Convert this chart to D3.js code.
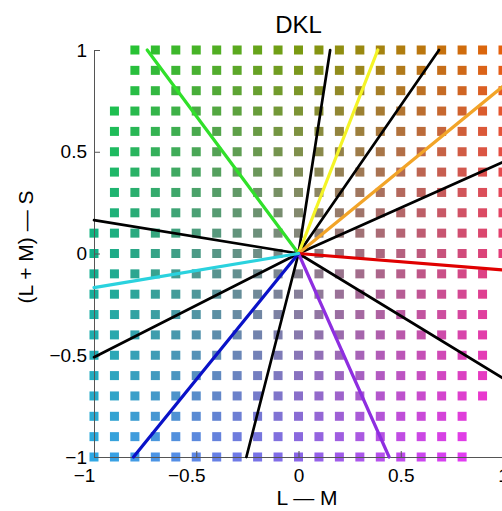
<!DOCTYPE html>
<html>
<head>
<meta charset="utf-8">
<script src="https://cdn.jsdelivr.net/npm/d3@7"></script>
<style>
  body { margin: 0; background: #fff; }
  svg { display: block; }
  text { font-family: "Liberation Sans", Arial, Helvetica, sans-serif; fill: #000; }
</style>
</head>
<body>
<script>
// grid of DKL samples: rows of (L+M)-S, columns of L-M
var sLevels = [1, 0.9, 0.8, 0.7, 0.6, 0.5, 0.4, 0.3, 0.2, 0.1, 0, -0.1, -0.2, -0.3, -0.4, -0.5, -0.6, -0.7, -0.8, -0.9, -1];
var lmLevels = [-1, -0.9, -0.8, -0.7, -0.6, -0.5, -0.4, -0.3, -0.2, -0.1, 0, 0.1, 0.2, 0.3, 0.4, 0.5, 0.6, 0.7, 0.8, 0.9, 1];
// gamut limits for each row (same order as sLevels)
var rowMin = [-0.8, -0.8, -0.8, -0.9, -0.9, -0.9, -0.9, -0.9, -0.9, -1, -1, -1, -1, -1, -1, -1, -1, -1, -1, -1, -1];
var rowMax = [1, 1, 1, 1, 1, 1, 1, 1, 1, 1, 1, 0.9, 0.9, 0.9, 0.9, 0.9, 0.9, 0.9, 0.8, 0.8, 0.8];

// colour read at the corners / edges / centre (rows s = 1, 0, -1; cols lm = -1, 0, 1)
var anchorColors = [
  ["#14cc3c", "#7a9a12", "#e6600c"],
  ["#12b088", "#858585", "#e43c78"],
  ["#30a8e4", "#8a66e8", "#f830f4"]
];

// direction lines (angle in degrees in the L-M / (L+M)-S plane)
var rayAngles = [81.2, 55.5, 24.2, -31.5, -104.3, -153, 170.7, 126.5, 68.8, 39.4, -4.6, -66.1, -128.9, -170.5];
var rayColors = ["#000", "#000", "#000", "#000", "#000", "#000", "#000",
                 "#30e02a", "#f4f426", "#f2a428", "#e00000", "#8e2ee0", "#0a12c8", "#2ad2de"];

var xTicks = [-1, -0.5, 0, 0.5, 1];
var yTicks = [-1, -0.5, 0, 0.5, 1];

var width = 502, height = 511;

var x = d3.scaleLinear().domain([-1, 1]).range([94, 503]);
var y = d3.scaleLinear().domain([-1, 1]).range([457, 50]);

function cellColor(lm, s) {
  var u = lm + 1, v = 1 - s;
  var i0 = Math.min(Math.floor(u), 1), j0 = Math.min(Math.floor(v), 1);
  var fu = u - i0, fv = v - j0;
  var top = d3.interpolateRgb(anchorColors[j0][i0], anchorColors[j0][i0 + 1])(fu);
  var bot = d3.interpolateRgb(anchorColors[j0 + 1][i0], anchorColors[j0 + 1][i0 + 1])(fu);
  return d3.interpolateRgb(top, bot)(fv);
}

var cells = [];
sLevels.forEach(function (s, r) {
  lmLevels.forEach(function (lm) {
    if (lm >= rowMin[r] - 1e-9 && lm <= rowMax[r] + 1e-9) cells.push({ lm: lm, s: s });
  });
});

var rays = rayAngles.map(function (a, i) {
  var t = a * Math.PI / 180;
  var c = Math.cos(t), sn = Math.sin(t);
  var k = 1 / Math.max(Math.abs(c), Math.abs(sn));
  return { lm: c * k, s: sn * k, color: rayColors[i] };
});

var svg = d3.select("body").append("svg")
  .attr("width", width)
  .attr("height", height);

var sq = 9;
svg.append("g").selectAll("rect")
  .data(cells)
  .enter()
  .append("rect")
  .attr("x", function (d) { return x(d.lm) - sq / 2; })
  .attr("y", function (d) { return y(d.s) - sq / 2; })
  .attr("width", sq)
  .attr("height", sq)
  .attr("fill", function (d) { return cellColor(d.lm, d.s); });

// axes (inward ticks, no box)
var fmt = function (d) { return d < 0 ? "\u2212" + Math.abs(d) : d; };

var xAxis = svg.append("g")
  .attr("transform", "translate(0," + y(-1) + ")")
  .call(d3.axisBottom(x).tickValues(xTicks).tickSize(-6).tickSizeOuter(0).tickPadding(12).tickFormat(fmt));
xAxis.selectAll("text")
  .attr("font-size", 19)
  .attr("dx", function (d) { return d < 0 ? -10 : 0; });

var yAxis = svg.append("g")
  .attr("transform", "translate(" + x(-1) + ",0)")
  .call(d3.axisLeft(y).tickValues(yTicks).tickSize(-6).tickSizeOuter(0).tickPadding(7).tickFormat(fmt));
yAxis.selectAll("text").attr("font-size", 19);

svg.selectAll(".domain, .tick line").attr("stroke", "#555").attr("stroke-width", 1);
svg.selectAll(".tick text").attr("font-family", "Liberation Sans, Arial, sans-serif").attr("fill", "#000");

// lines from the origin
svg.append("g").selectAll("line")
  .data(rays)
  .enter()
  .append("line")
  .attr("x1", x(0))
  .attr("y1", y(0))
  .attr("x2", function (d) { return x(d.lm); })
  .attr("y2", function (d) { return y(d.s); })
  .attr("stroke", function (d) { return d.color; })
  .attr("stroke-width", function (d) { return d.color === "#000" ? 2.7 : 3.2; })
  .attr("stroke-linecap", "round");

svg.append("text")
  .attr("x", x(0))
  .attr("y", 33)
  .attr("text-anchor", "middle")
  .attr("font-size", 24)
  .text("DKL");

svg.append("text")
  .attr("x", 307)
  .attr("y", 505)
  .attr("text-anchor", "middle")
  .attr("font-size", 21)
  .text("L \u2014 M");

svg.append("text")
  .attr("transform", "translate(33,247) rotate(-90)")
  .attr("text-anchor", "middle")
  .attr("font-size", 21)
  .text("(L + M) \u2014 S");
</script>
</body>
</html>
